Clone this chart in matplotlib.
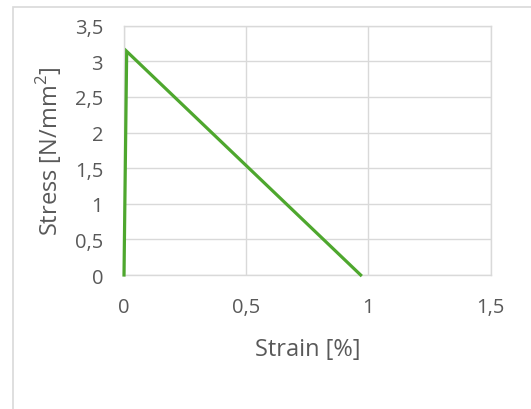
import matplotlib
matplotlib.use("Agg")
import matplotlib.pyplot as plt
from matplotlib.patches import Rectangle
from matplotlib.ticker import FuncFormatter

strain = [0.0, 0.011, 0.968]
stress = [0.0, 3.14, 0.0]
xticks = [0, 0.5, 1, 1.5]
yticks = [0, 0.5, 1, 1.5, 2, 2.5, 3, 3.5]

plt.rcParams['font.family'] = ['Open Sans', 'DejaVu Sans']
plt.rcParams['mathtext.fontset'] = 'custom'
plt.rcParams['mathtext.rm'] = 'Open Sans'

W, H = 531, 410
fig = plt.figure(figsize=(W/100, H/100), dpi=100)
fig.patches.append(Rectangle((12.5/W, -0.1), 1.2, (H-7.5)/H + 0.1, transform=fig.transFigure,
                             fill=False, edgecolor='#d9d9d9', lw=1.2, zorder=0))
ax = fig.add_axes([124/W, 1-276/H, (490.7-124)/W, (276-26.7)/H])
ax.plot(strain, stress, color='#4ea72e', lw=2.3, solid_joinstyle='miter', zorder=3, clip_on=False)
ax.set_xlim(0, 1.5)
ax.set_ylim(0, 3.5)
ax.set_xticks(xticks)
ax.set_yticks(yticks)
fmt = FuncFormatter(lambda v, p: ('%g' % v).replace('.', ','))
ax.xaxis.set_major_formatter(fmt)
ax.yaxis.set_major_formatter(fmt)
ax.grid(True, color='#d9d9d9', lw=1)
ax.set_axisbelow(True)
for s in ax.spines.values():
    s.set_color('#d9d9d9')
    s.set_linewidth(1)
ax.tick_params(length=0, labelsize=14.5, colors='#595959')
ax.tick_params(axis='y', pad=15)
ax.tick_params(axis='x', pad=16)
ax.set_xlabel('Strain [%]', fontsize=17, color='#595959', labelpad=14)
ax.set_ylabel('Stress [N/mm$^2$]', fontsize=17, color='#595959', labelpad=8)
fig.savefig('out.png', dpi=100)
